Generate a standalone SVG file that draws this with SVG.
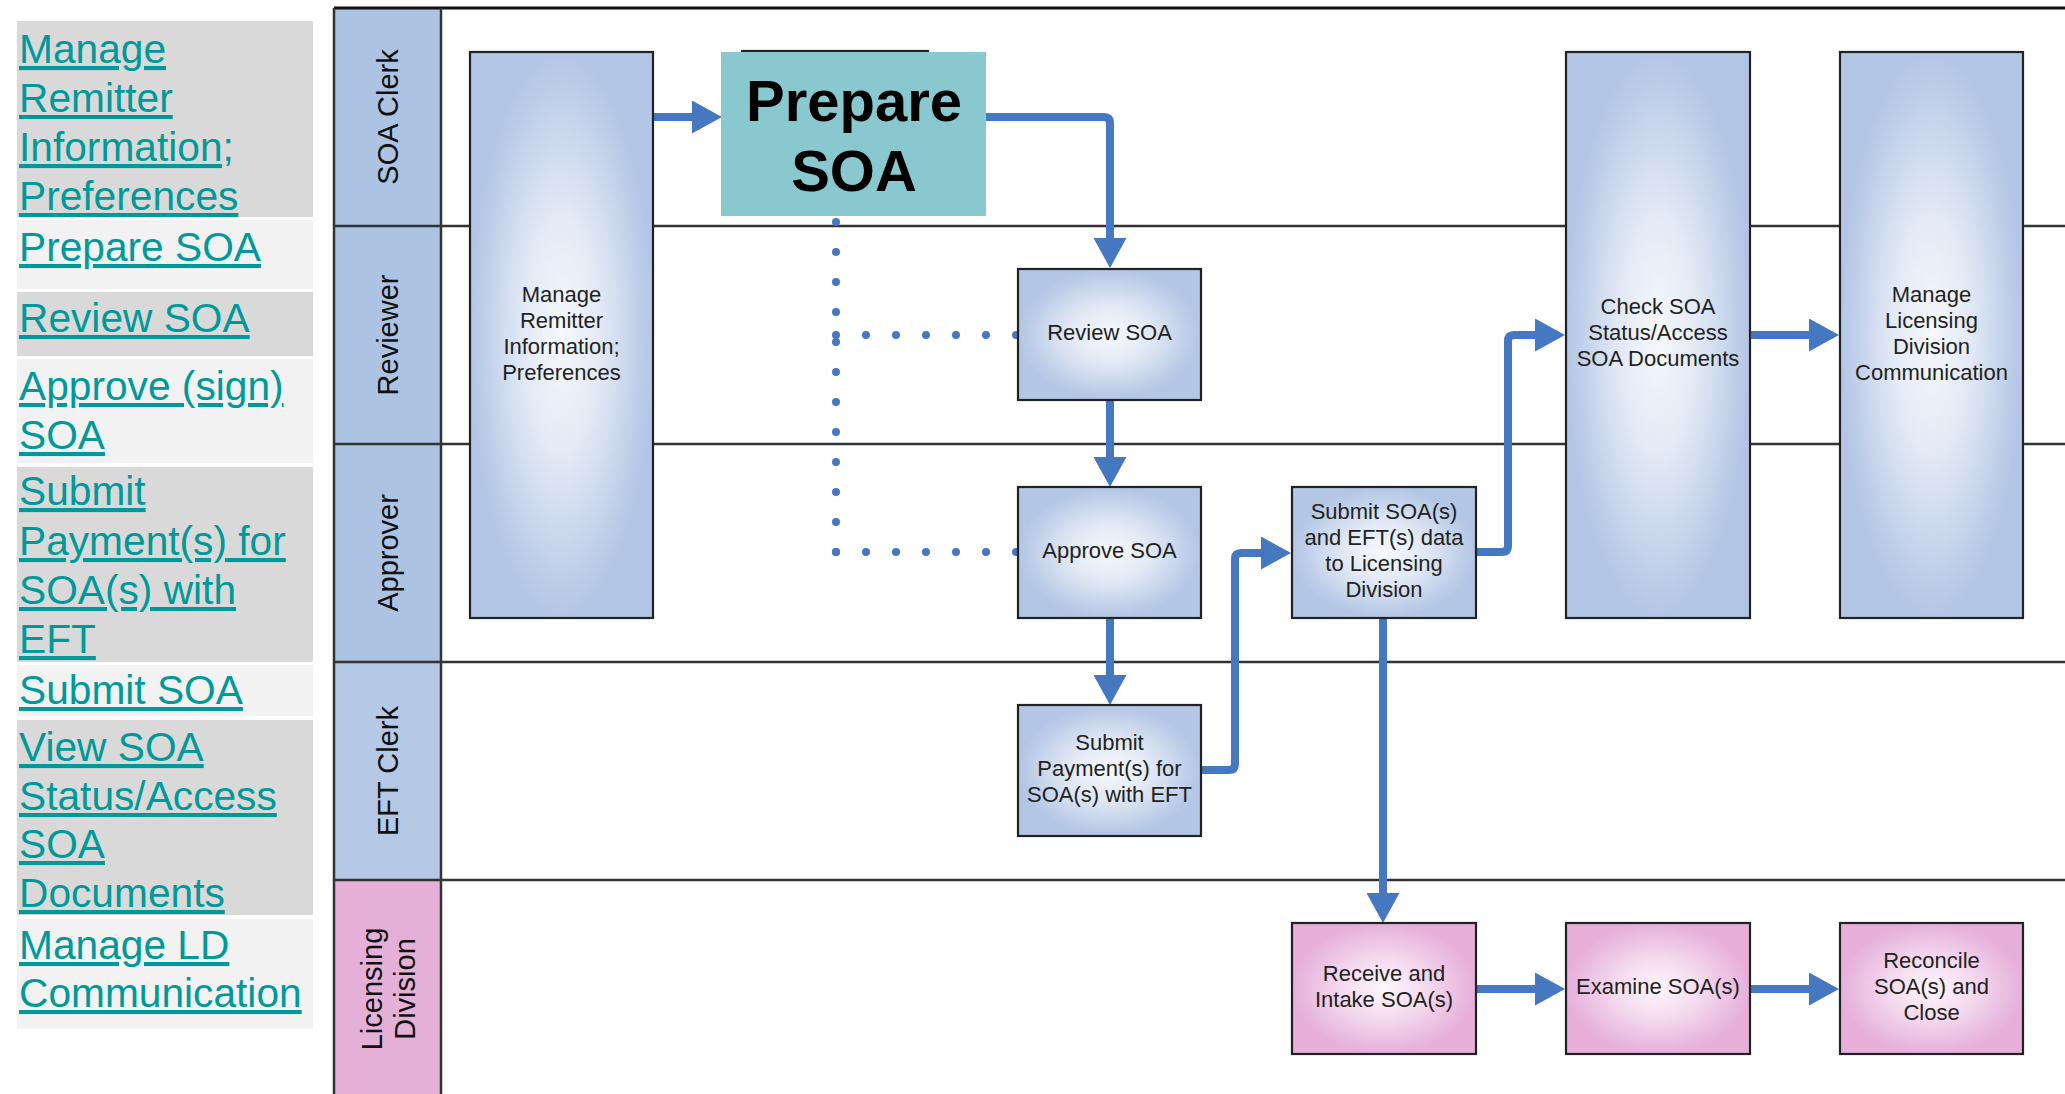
<svg xmlns="http://www.w3.org/2000/svg" width="2065" height="1094" viewBox="0 0 2065 1094">
<style>
.nav{fill:#00999a;font-family:"Liberation Sans",Arial,sans-serif;font-size:40.7px;text-decoration:underline}
.lane{font-family:"Liberation Sans",Arial,sans-serif;font-size:29px;fill:#111;text-anchor:middle}
.lbl{font-family:"Liberation Sans",Arial,sans-serif;font-size:22px;fill:#222;text-anchor:middle}
.bn{fill:url(#gb);stroke:#222;stroke-width:2.2}
.pn{fill:url(#gp);stroke:#222;stroke-width:2.2}
.ln{stroke:#333;stroke-width:2.5;fill:none}
.cn{fill:none;stroke:#4678c1;stroke-width:8;stroke-linejoin:round;marker-end:url(#ah)}
.dt{fill:none;stroke:#4678c1;stroke-width:8;stroke-linecap:round;stroke-dasharray:0 30}
</style>
<defs>
<radialGradient id="gb" cx="0.5" cy="0.5" r="0.62">
<stop offset="0" stop-color="#f6f8fc"/>
<stop offset="0.35" stop-color="#e2e9f5"/>
<stop offset="0.8" stop-color="#b3c6e5"/>
</radialGradient>
<radialGradient id="gp" cx="0.5" cy="0.5" r="0.62">
<stop offset="0" stop-color="#fdf5fb"/>
<stop offset="0.35" stop-color="#f5dcef"/>
<stop offset="0.8" stop-color="#e6b0db"/>
</radialGradient>
<marker id="ah" markerUnits="userSpaceOnUse" viewBox="0 0 30 33" refX="10" refY="16.5" markerWidth="30" markerHeight="33" orient="auto">
<path d="M0,0 L30,16.5 L0,33 Z" fill="#4678c1"/>
</marker>
</defs>
<rect width="2065" height="1094" fill="#fff"/>

<g id="nav">
<rect x="17" y="21" width="296" height="196" fill="#d9d9d9"/>
<rect x="17" y="220" width="296" height="69" fill="#f2f2f2"/>
<rect x="17" y="292" width="296" height="64" fill="#d9d9d9"/>
<rect x="17" y="359" width="296" height="104" fill="#f2f2f2"/>
<rect x="17" y="467" width="296" height="195" fill="#d9d9d9"/>
<rect x="17" y="665" width="296" height="51" fill="#f2f2f2"/>
<rect x="17" y="720" width="296" height="195" fill="#d9d9d9"/>
<rect x="17" y="919" width="296" height="110" fill="#f2f2f2"/>
<text class="nav" x="19" y="63">Manage</text>
<text class="nav" x="19" y="112">Remitter</text>
<text class="nav" x="19" y="161">Information;</text>
<text class="nav" x="19" y="210">Preferences</text>
<text class="nav" x="19" y="261">Prepare SOA</text>
<text class="nav" x="19" y="332">Review SOA</text>
<text class="nav" x="19" y="400">Approve (sign)</text>
<text class="nav" x="19" y="449">SOA</text>
<text class="nav" x="19" y="505">Submit</text>
<text class="nav" x="19" y="555">Payment(s) for</text>
<text class="nav" x="19" y="604">SOA(s) with</text>
<text class="nav" x="19" y="653">EFT</text>
<text class="nav" x="19" y="704">Submit SOA</text>
<text class="nav" x="19" y="761">View SOA</text>
<text class="nav" x="19" y="810">Status/Access</text>
<text class="nav" x="19" y="858">SOA</text>
<text class="nav" x="19" y="907">Documents</text>
<text class="nav" x="19" y="959">Manage LD</text>
<text class="nav" x="19" y="1007">Communication</text>
</g>

<g id="lanes">
<rect x="334" y="8" width="107" height="218" fill="#adc3e3"/>
<rect x="334" y="226" width="107" height="218" fill="#adc3e3"/>
<rect x="334" y="444" width="107" height="218" fill="#adc3e3"/>
<rect x="334" y="662" width="107" height="218" fill="#b5c8e6"/>
<rect x="334" y="880" width="107" height="214" fill="#e5b0d8"/>
<path class="ln" d="M334,226 H2065 M334,444 H2065 M334,662 H2065 M334,880 H2065"/>
<path d="M334,8 H2065" stroke="#111" stroke-width="3"/>
<path class="ln" d="M334,8 V1094 M441,8 V1094"/>
<text class="lane" transform="translate(397.5,117) rotate(-90)">SOA Clerk</text>
<text class="lane" transform="translate(397.5,335) rotate(-90)">Reviewer</text>
<text class="lane" transform="translate(397.5,553) rotate(-90)">Approver</text>
<text class="lane" transform="translate(397.5,771) rotate(-90)">EFT Clerk</text>
<text class="lane" transform="translate(382,989) rotate(-90)">Licensing</text>
<text class="lane" transform="translate(415,989) rotate(-90)">Division</text>
</g>

<g id="connectors">
<path class="dt" d="M836,222 V553"/>
<path class="dt" d="M1016,335 H835"/>
<path class="dt" d="M1016,552 H835"/>
<path class="cn" d="M653,117 H702"/>
<path class="cn" d="M986,117 H1104 Q1110,117 1110,123 V248"/>
<path class="cn" d="M1110,401 V467"/>
<path class="cn" d="M1110,618 V685"/>
<path class="cn" d="M1201,770 H1229 Q1235,770 1235,764 V559 Q1235,553 1241,553 H1271"/>
<path class="cn" d="M1475,552 H1502 Q1508,552 1508,546 V341 Q1508,335 1514,335 H1545"/>
<path class="cn" d="M1750,335 H1819"/>
<path class="cn" d="M1383,618 V903"/>
<path class="cn" d="M1476,989 H1545"/>
<path class="cn" d="M1746,989 H1819"/>
</g>

<g id="n-manage-remitter">
<rect class="bn" x="470" y="52" width="183" height="566"/>
<text class="lbl" x="561.5" y="301.5">Manage</text>
<text class="lbl" x="561.5" y="327.5">Remitter</text>
<text class="lbl" x="561.5" y="353.5">Information;</text>
<text class="lbl" x="561.5" y="379.5">Preferences</text>
</g>

<g id="n-prepare">
<rect class="bn" x="742" y="51" width="186" height="131"/>
<rect x="721" y="52" width="265" height="164" fill="#89c8cf"/>
<text x="854" y="121" font-family="'Liberation Sans',Arial,sans-serif" font-size="58" font-weight="bold" fill="#000" text-anchor="middle">Prepare</text>
<text x="854" y="191" font-family="'Liberation Sans',Arial,sans-serif" font-size="58" font-weight="bold" fill="#000" text-anchor="middle">SOA</text>
</g>

<g id="n-review">
<rect class="bn" x="1018" y="269" width="183" height="131"/>
<text class="lbl" x="1109.5" y="340">Review SOA</text>
</g>

<g id="n-approve">
<rect class="bn" x="1018" y="487" width="183" height="131"/>
<text class="lbl" x="1109.5" y="558">Approve SOA</text>
</g>

<g id="n-submit-payment">
<rect class="bn" x="1018" y="705" width="183" height="131"/>
<text class="lbl" x="1109.5" y="750">Submit</text>
<text class="lbl" x="1109.5" y="776">Payment(s) for</text>
<text class="lbl" x="1109.5" y="802">SOA(s) with EFT</text>
</g>

<g id="n-submit-soa">
<rect class="bn" x="1292" y="487" width="184" height="131"/>
<text class="lbl" x="1384" y="519">Submit SOA(s)</text>
<text class="lbl" x="1384" y="545">and EFT(s) data</text>
<text class="lbl" x="1384" y="571">to Licensing</text>
<text class="lbl" x="1384" y="597">Division</text>
</g>

<g id="n-check">
<rect class="bn" x="1566" y="52" width="184" height="566"/>
<text class="lbl" x="1658" y="314">Check SOA</text>
<text class="lbl" x="1658" y="340">Status/Access</text>
<text class="lbl" x="1658" y="366">SOA Documents</text>
</g>

<g id="n-manage-ld">
<rect class="bn" x="1840" y="52" width="183" height="566"/>
<text class="lbl" x="1931.5" y="301.5">Manage</text>
<text class="lbl" x="1931.5" y="327.5">Licensing</text>
<text class="lbl" x="1931.5" y="353.5">Division</text>
<text class="lbl" x="1931.5" y="379.5">Communication</text>
</g>

<g id="n-receive">
<rect class="pn" x="1292" y="923" width="184" height="131"/>
<text class="lbl" x="1384" y="981">Receive and</text>
<text class="lbl" x="1384" y="1007">Intake SOA(s)</text>
</g>

<g id="n-examine">
<rect class="pn" x="1566" y="923" width="184" height="131"/>
<text class="lbl" x="1658" y="994">Examine SOA(s)</text>
</g>

<g id="n-reconcile">
<rect class="pn" x="1840" y="923" width="183" height="131"/>
<text class="lbl" x="1931.5" y="968">Reconcile</text>
<text class="lbl" x="1931.5" y="994">SOA(s) and</text>
<text class="lbl" x="1931.5" y="1020">Close</text>
</g>
</svg>
